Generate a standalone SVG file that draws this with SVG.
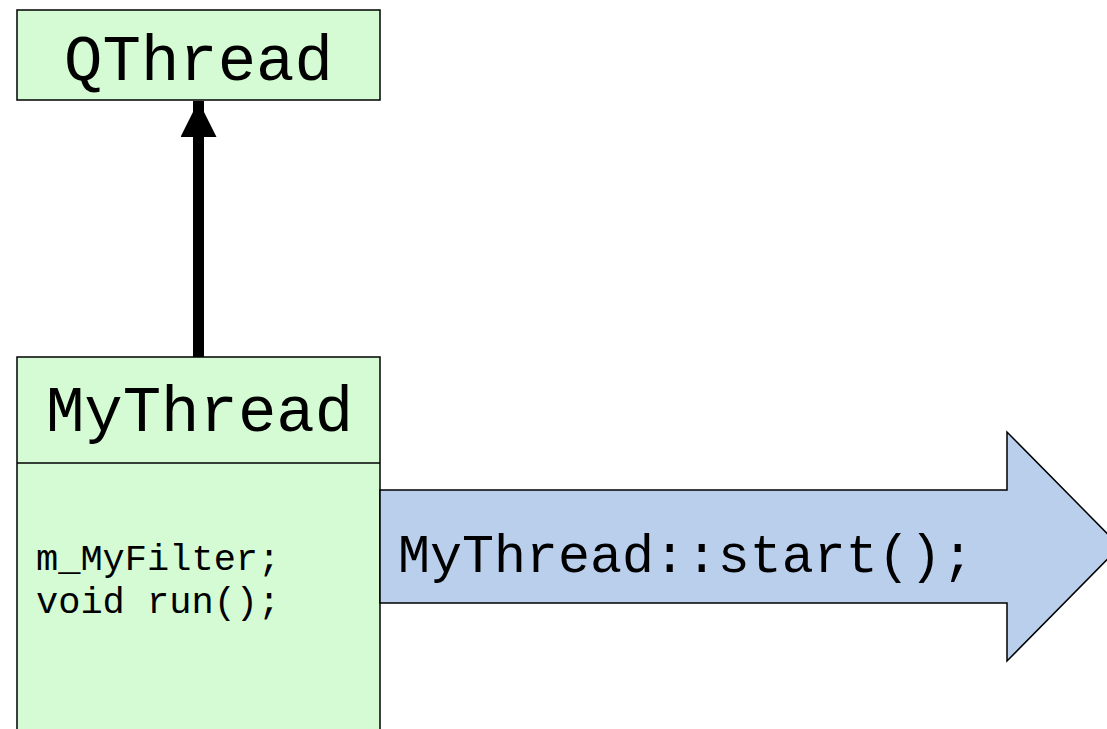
<svg xmlns="http://www.w3.org/2000/svg" width="1107" height="729" viewBox="0 0 1107 729">
<style>
.box{fill:#d4fbd3;stroke:#000;stroke-width:1.5}
.mono{font-family:"Liberation Mono","Courier New",monospace;fill:#000}
.title{font-size:64px}
.body{font-size:37px}
.big{font-size:53.3px}
</style>
<defs>
<marker id="head" markerWidth="36" markerHeight="36" refX="36" refY="18" orient="auto" markerUnits="userSpaceOnUse">
<path d="M0,0 L36,18 L0,36 Z" fill="#000"/>
</marker>
</defs>
<rect width="1107" height="729" fill="#fff"/>
<g id="connectors">
<line x1="198.5" y1="357" x2="198.5" y2="101" stroke="#000" stroke-width="11" marker-end="url(#head)"/>
</g>
<g id="QThread">
<rect class="box" x="17" y="10" width="363" height="90"/>
<text class="mono title" x="198.5" y="80" text-anchor="middle">QThread</text>
</g>
<g id="MyThread">
<rect class="box" x="17" y="357" width="363" height="380"/>
<line x1="17" y1="463" x2="380" y2="463" stroke="#000" stroke-width="1.5"/>
<text class="mono title" x="199.5" y="431" text-anchor="middle">MyThread</text>
<text class="mono body" x="36" y="570">m_MyFilter;</text>
<text class="mono body" x="36" y="613">void run();</text>
</g>
<g id="start">
<path d="M380,490 L1007,490 L1007,432 L1120,546.5 L1007,661 L1007,603 L380,603 Z" fill="#b9cfec" stroke="#000" stroke-width="1.5"/>
<text class="mono big" x="398" y="572">MyThread::start();</text>
</g>
</svg>
